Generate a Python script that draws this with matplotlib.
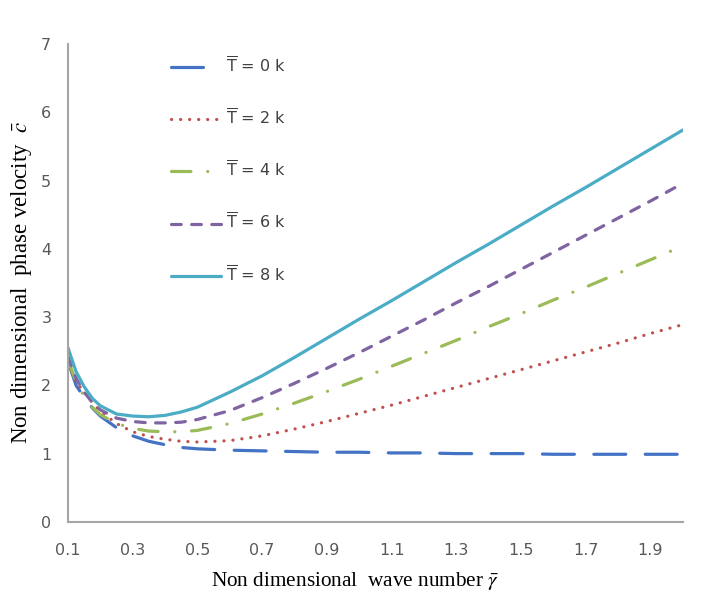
import matplotlib
matplotlib.use("Agg")
import matplotlib.pyplot as plt
from matplotlib.font_manager import FontProperties
import numpy as np

plt.rcParams['mathtext.fontset'] = 'stix'
plt.rcParams['lines.scale_dashes'] = False

# wave number gamma
gamma = [0.1, 0.125, 0.15, 0.175, 0.2, 0.25, 0.3, 0.35, 0.4, 0.45, 0.5,
         0.6, 0.7, 0.8, 0.9, 1.0, 1.1, 1.2, 1.3, 1.4, 1.5,
         1.6, 1.7, 1.8, 1.9, 2.0]

# phase velocity for each temperature
c_T0 = [2.35, 2.00, 1.82, 1.67, 1.55, 1.38, 1.26, 1.18, 1.13, 1.09, 1.07,
        1.05, 1.04, 1.03, 1.02, 1.02, 1.01, 1.01, 1.00, 1.00, 1.00,
        0.99, 0.99, 0.99, 0.99, 0.99]
c_T2 = [2.33, 2.05, 1.90, 1.75, 1.62, 1.44, 1.32, 1.25, 1.21, 1.18, 1.17,
        1.19, 1.26, 1.36, 1.47, 1.59, 1.71, 1.84, 1.97, 2.10, 2.23,
        2.36, 2.49, 2.62, 2.76, 2.89]
c_T4 = [2.37, 2.05, 1.84, 1.68, 1.57, 1.44, 1.37, 1.33, 1.32, 1.32, 1.34,
        1.44, 1.58, 1.74, 1.91, 2.09, 2.28, 2.47, 2.66, 2.86, 3.05,
        3.25, 3.44, 3.64, 3.84, 4.04]
c_T6 = [2.42, 2.10, 1.90, 1.75, 1.64, 1.52, 1.47, 1.45, 1.45, 1.46, 1.50,
        1.63, 1.82, 2.03, 2.25, 2.48, 2.72, 2.96, 3.21, 3.45, 3.70,
        3.95, 4.20, 4.45, 4.70, 4.96]
c_T8 = [2.55, 2.20, 1.98, 1.81, 1.70, 1.58, 1.55, 1.54, 1.56, 1.61, 1.68,
        1.90, 2.14, 2.41, 2.69, 2.97, 3.24, 3.52, 3.80, 4.07, 4.35,
        4.63, 4.90, 5.18, 5.46, 5.74]

labels = ['0', '2', '4', '6', '8']
colors = ['#4472C4', '#C0504D', '#9BBB59', '#8064A2', '#4BACC6']
dashes = [(23, 14), (0.1, 6.4), (14, 12, 0.1, 12), (7, 7.5), None]

fig = plt.figure(figsize=(7.01, 6.04), dpi=100)
ax = fig.add_axes([0.097, 0.136, 0.877, 0.791])

for c, lab, col, d in zip([c_T0, c_T2, c_T4, c_T6, c_T8], labels, colors, dashes):
    name = r'$\overline{\mathrm{T}}$ = ' + lab + ' k'
    if d is None:
        ax.plot(gamma, c, color=col, lw=2.3, label=name, solid_capstyle='round')
    else:
        ax.plot(gamma, c, color=col, lw=2.3, label=name,
                dashes=d, dash_capstyle='round')

ax.set_xlim(0.1, 2.0)
ax.set_ylim(0, 7)
ax.set_xticks(np.arange(0.1, 2.0, 0.2))
ax.set_xticklabels(['0.1', '0.3', '0.5', '0.7', '0.9', '1.1', '1.3', '1.5', '1.7', '1.9'])
ax.set_yticks(range(0, 8))
ax.tick_params(length=0, labelsize=11.5, colors='#595959')
ax.tick_params(axis='x', pad=15)
ax.tick_params(axis='y', pad=12)

for s in ['top', 'right']:
    ax.spines[s].set_visible(False)
for s in ['left', 'bottom']:
    ax.spines[s].set_color('#A6A6A6')
    ax.spines[s].set_linewidth(1.5)

ax.set_xlabel(r'Non dimensional  wave number $\bar{\gamma}$',
              family='Liberation Serif', fontsize=15.3)
ax.set_ylabel(r'Non dimensional  phase velocity  $\bar{c}$',
              family='Liberation Serif', fontsize=16.5)
ax.xaxis.set_label_coords(0.467, -0.1)
ax.yaxis.set_label_coords(-0.055, 0.50)

leg_font = FontProperties(family='DejaVu Sans', size=11.5, math_fontfamily='dejavusans')
leg = ax.legend(loc='upper left', bbox_to_anchor=(0.155, 0.993), frameon=False,
                handlelength=3.1, labelspacing=2.02, handletextpad=0.35,
                prop=leg_font, borderpad=0)
for t in leg.get_texts():
    t.set_color('#404040')

fig.savefig('out.png', dpi=100)
